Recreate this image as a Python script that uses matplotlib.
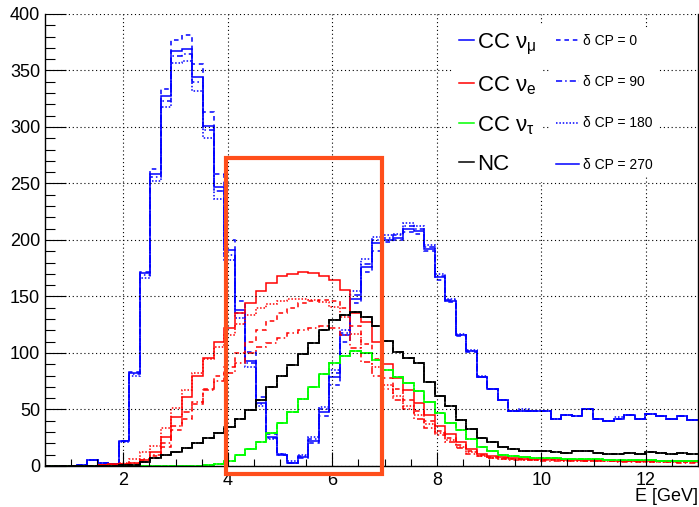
import numpy as np
import matplotlib
matplotlib.use('Agg')
import matplotlib.pyplot as plt
from matplotlib.patches import Rectangle
from matplotlib.ticker import MultipleLocator

plt.rcParams['font.family'] = ['Liberation Sans', 'DejaVu Sans']
plt.rcParams['mathtext.fontset'] = 'custom'
plt.rcParams['mathtext.rm'] = 'Liberation Sans'
plt.rcParams['mathtext.it'] = 'Liberation Sans:italic'

# binning: 62 bins between 0.5 and 13 GeV
E_MIN, E_MAX, N_BINS = 0.5, 13.0, 62
edges = np.linspace(E_MIN, E_MAX, N_BINS + 1)

# CC nu_mu, one list per delta CP
numu_0 = [0, 0, 0, 1, 5, 3, 2, 22, 83, 172,
          263, 334, 377, 381, 356, 313, 258, 200, 146, 101,
          61, 28, 11, 3, 7, 20, 44, 72, 110, 144,
          172, 190, 198, 200, 207, 205, 190, 165, 145, 115,
          101, 79, 68, 58, 49, 49, 49, 49, 42, 45,
          44, 50, 42, 40, 42, 45, 42, 46, 44, 42,
          44, 41]
numu_90 = [0, 0, 0, 1, 5, 3, 2, 22, 81, 169,
           256, 323, 363, 365, 340, 297, 243, 187, 135, 91,
           55, 25, 10, 3, 9, 24, 50, 82, 118, 151,
           179, 200, 202, 204, 212, 210, 194, 168, 147, 116,
           102, 79, 68, 58, 49, 49, 49, 49, 42, 45,
           44, 50, 42, 40, 42, 45, 42, 46, 44, 42,
           44, 41]
numu_180 = [0, 0, 0, 1, 5, 3, 2, 21, 80, 166,
            252, 318, 357, 358, 332, 290, 236, 182, 131, 88,
            53, 24, 11, 4, 10, 26, 52, 85, 120, 155,
            183, 203, 204, 205, 215, 212, 196, 170, 148, 117,
            103, 80, 68, 58, 49, 50, 49, 49, 42, 45,
            44, 50, 42, 40, 43, 45, 42, 46, 44, 42,
            44, 41]
numu_270 = [0, 0, 0, 1, 5, 3, 2, 22, 82, 171,
            258, 327, 367, 369, 344, 301, 247, 191, 138, 93,
            56, 26, 10, 3, 8, 22, 48, 79, 116, 148,
            176, 197, 200, 202, 210, 208, 192, 167, 146, 116,
            102, 79, 68, 58, 49, 49, 49, 49, 42, 45,
            44, 50, 42, 40, 42, 45, 42, 46, 44, 42,
            44, 41]

# CC nu_e
nue_0 = [0, 0, 0, 0, 0, 0.5, 1, 1.5, 2, 5,
         9, 17, 32, 42, 55, 68, 80, 88, 100, 110,
         120, 128, 135, 140, 144, 146, 147, 146, 140, 124,
         108, 95, 78, 68, 58, 49, 40, 31, 25, 19,
         13.5, 10, 8, 7, 6.5, 6, 5.5, 5.5, 5, 5,
         5, 4.5, 4.5, 4.5, 4, 4, 4, 4, 4, 3.5,
         3.5, 3.5]
nue_90 = [0, 0, 0, 0, 0, 0.5, 1, 1.5, 3, 6,
          10, 20, 35, 48, 57, 67, 75, 82, 91, 100,
          105, 109, 113, 118, 120, 122, 124, 122, 116, 104,
          92, 80, 68, 58, 50, 42, 34, 27, 21, 16,
          11, 8.5, 7, 6, 5.5, 5, 5, 4.5, 4.5, 4.5,
          4, 4, 4, 4, 3.5, 3.5, 3.5, 3.5, 3.5, 3.5,
          3, 3]
nue_180 = [0, 0, 0, 0, 0, 1, 2, 3, 6, 12,
           18, 34, 51, 67, 82, 95, 105, 116, 126, 134,
           140, 143, 146, 148, 148, 147, 145, 141, 132, 117,
           100, 88, 72, 62, 53, 45, 37, 29, 23, 17,
           12, 9, 7.5, 6.5, 6, 5.5, 5, 5, 5, 4.5,
           4.5, 4.5, 4, 4, 4, 4, 3.5, 3.5, 3.5, 3.5,
           3.5, 3.5]
nue_270 = [0, 0, 0, 0, 0, 1, 1.5, 2, 3, 5,
           12, 26, 43, 61, 80, 96, 110, 122, 135, 144,
           155, 162, 168, 170, 172, 171, 168, 165, 156, 135,
           127, 110, 90, 78, 67, 56, 45, 35, 28, 21,
           15, 11, 9, 8, 7, 6.5, 6, 6, 6, 5.5,
           5.5, 5.5, 5, 5, 4.5, 4.5, 4.5, 4.5, 4, 4,
           4, 4]

# CC nu_tau and NC hardly move with delta CP
nutau = [0, 0, 0, 0, 0, 0, 0, 0, 0, 0,
         0, 0, 0, 0, 0, 0.5, 1.5, 4, 10, 15,
         21, 29, 38, 48, 59, 70, 81, 91, 97, 102,
         100, 94, 85, 79, 73, 66, 57, 47, 38, 32,
         24, 16.5, 13.5, 10, 8.5, 8, 7.5, 7.5, 7, 6.5,
         6.5, 6, 6, 5.5, 5.5, 5, 5, 5, 4.5, 4.5,
         4.5, 4.5]
nc = [0, 0, 0, 0, 0, 0, 0, 0.5, 1, 3.8,
      6.8, 9.7, 12.6, 15.6, 20, 24.4, 29.4, 34.7, 42, 49.4,
      58.8, 69.5, 79.4, 89, 98.8, 108.8, 120, 129.5, 134, 136,
      132, 124, 111, 101, 96, 91, 74, 62, 53, 41,
      33, 25, 21, 17, 15, 13.5, 13.5, 13.5, 12.6, 11.8,
      13.2, 13.5, 11.2, 10.6, 10.6, 11.8, 10.6, 12.4, 11.2, 10.6,
      11.8, 10.6]

delta_labels = ['δ CP = 0', 'δ CP = 90', 'δ CP = 180', 'δ CP = 270']
styles = [(0, (3, 2.5)), (0, (4, 2, 1, 2)), (0, (1, 1.2)), '-']

flavours = [
    ('CC $\\mathrm{\\nu}_{\\mathrm{\\mu}}$', '#0000ff', [numu_0, numu_90, numu_180, numu_270]),
    ('CC $\\mathrm{\\nu}_{\\mathrm{e}}$', '#ff0000', [nue_0, nue_90, nue_180, nue_270]),
    ('CC $\\mathrm{\\nu}_{\\mathrm{\\tau}}$', '#00ff00', [nutau] * 4),
    ('NC', '#000000', [nc] * 4),
]

# highlighted window
BOX_E = (3.97, 6.95)
BOX_Y = (-7, 273)

fig = plt.figure(figsize=(6.99, 5.07), dpi=100)
ax = fig.add_axes([0.0644, 0.0809, 0.9342, 0.8915])

flav_handles = []
for name, col, hists in flavours:
    for vals, ls in zip(hists, styles):
        ax.stairs(vals, edges, baseline=None, color=col, linestyle=ls, lw=1.1)
    flav_handles.append(plt.Line2D([], [], color=col, lw=1.1))

ax.set_xlim(E_MIN, E_MAX)
ax.set_ylim(0, 400)
ax.xaxis.set_major_locator(MultipleLocator(2))
ax.xaxis.set_minor_locator(MultipleLocator(0.5))
ax.yaxis.set_major_locator(MultipleLocator(50))
ax.yaxis.set_minor_locator(MultipleLocator(10))
ax.tick_params(which='both', direction='in', labelsize=13, width=0.8)
ax.tick_params(axis='y', which='major', length=15)
ax.tick_params(axis='y', which='minor', length=7.5)
ax.tick_params(axis='x', which='major', length=10)
ax.tick_params(axis='x', which='minor', length=5)
ax.tick_params(axis='x', pad=4)
ax.grid(True, which='major', color='black', linestyle=(0, (1, 2.5)), lw=0.8)
ax.spines['top'].set_visible(False)
for s in ['left', 'bottom', 'right']:
    ax.spines[s].set_linewidth(1.0)

ax.add_patch(Rectangle((BOX_E[0], BOX_Y[0]), BOX_E[1] - BOX_E[0], BOX_Y[1] - BOX_Y[0],
                       fill=False, edgecolor='#ff4e1b', lw=3, clip_on=False, zorder=5))

leg1 = ax.legend(flav_handles, [f[0] for f in flavours], loc='upper left',
                 bbox_to_anchor=(0.606, 1.0), fontsize=16, handlelength=0.68,
                 handletextpad=0.14, labelspacing=0.78, borderpad=0.3,
                 frameon=True, fancybox=False, edgecolor='none', framealpha=1)
ax.add_artist(leg1)
cp_handles = [plt.Line2D([], [], color='#0000ff', linestyle=ls, lw=1.1) for ls in styles]
ax.legend(cp_handles, delta_labels, loc='upper left', bbox_to_anchor=(0.764, 0.984),
          fontsize=10, handlelength=1.65, handletextpad=0.3, labelspacing=1.97,
          borderpad=0.4, frameon=True, fancybox=False, edgecolor='none', framealpha=1)

fig.text(0.998, 0.021, 'E [GeV]', ha='right', va='center', fontsize=13)

fig.savefig('out.png', dpi=100)
